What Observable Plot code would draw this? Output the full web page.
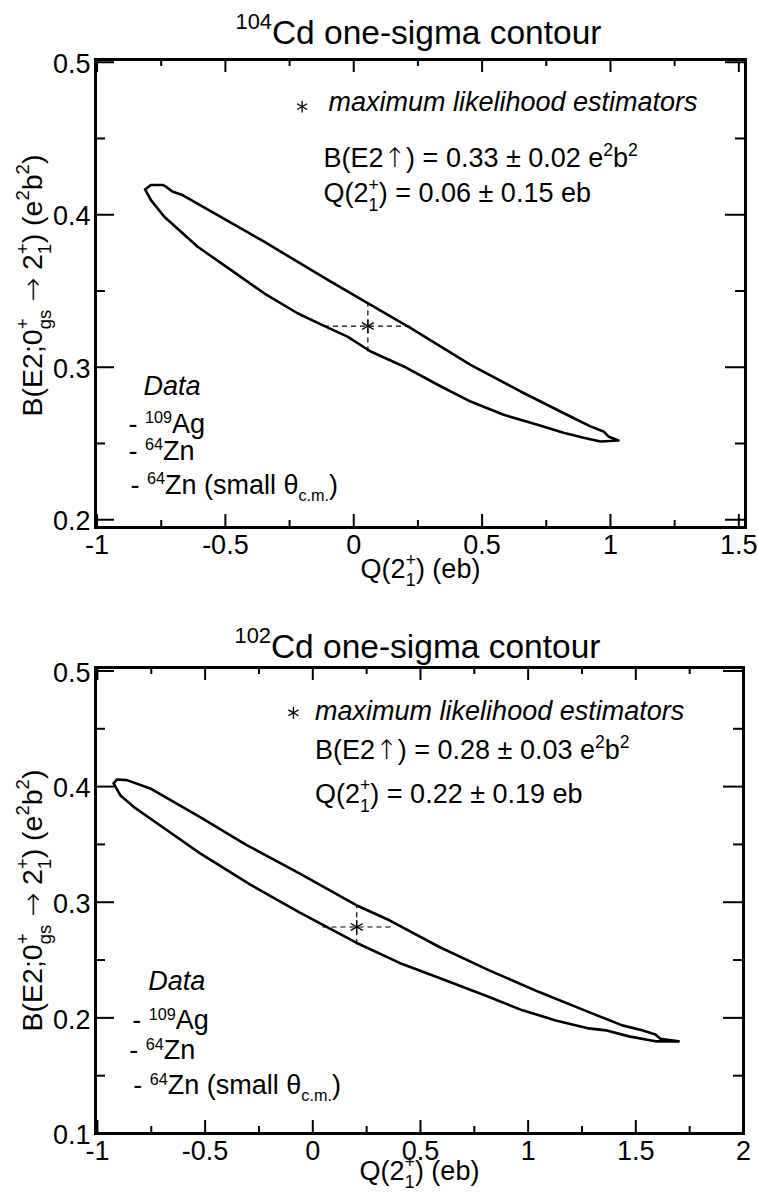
<!DOCTYPE html>
<html><head><meta charset="utf-8">
<script src="https://cdn.jsdelivr.net/npm/d3@7"></script>
<script src="https://cdn.jsdelivr.net/npm/@observablehq/plot@0.6"></script>
<style>body{margin:0;background:#fff} svg{display:block}</style>
</head><body><div id="chart"></div>
<script>
// ---------- data ----------
const panelTitles = ["^{104}Cd one-sigma contour", "^{102}Cd one-sigma contour"];
const xTitle = "Q(2^{+}_{1}) (eb)";
const yTitle = "B(E2;0^{+}_{gs} \u2192 2^{+}_{1}) (e^{2}b^{2})";
const legendHeader = "maximum likelihood estimators";
const dataHeader = "Data";
const dataSets = ["- ^[109]Ag", "- ^[64]Zn", "- ^[64]Zn (small \u03b8_[c.m.])"];

const cd104Estimates = ["B(E2\u2191) = 0.33 \u00b1 0.02 e^{2}b^{2}", "Q(2^{+}_{1}) = 0.06 \u00b1 0.15 eb"];
const cd102Estimates = ["B(E2\u2191) = 0.28 \u00b1 0.03 e^{2}b^{2}", "Q(2^{+}_{1}) = 0.22 \u00b1 0.19 eb"];

// 104Cd one-sigma contour (closed)
const cd104Q = [-0.813, -0.790, -0.744, -0.735, -0.705, -0.667, -0.349, -0.0895, 0.066, 0.222, 0.455, 0.650, 0.844, 0.922, 0.973, 0.992, 1.031,
  0.961, 0.895, 0.817, 0.716, 0.584, 0.455, 0.327, 0.195, 0.066, -0.0245, -0.1156, -0.219, -0.349, -0.479, -0.608, -0.738, -0.790, -0.813];
const cd104B = [0.4166, 0.4195, 0.4195, 0.4188, 0.4151, 0.4129, 0.3823, 0.3561, 0.3409, 0.3256, 0.3016, 0.2841, 0.2677, 0.2612, 0.2579, 0.2546, 0.2520,
  0.2513, 0.2538, 0.2570, 0.2623, 0.2688, 0.2775, 0.2885, 0.3005, 0.3103, 0.3201, 0.3271, 0.3354, 0.3485, 0.3638, 0.3790, 0.3987, 0.4096, 0.4166];
const cd104BestQ = 0.055, cd104BestB = 0.327;
const cd104CrossQ = [-0.116, 0.222];
const cd104CrossB = [0.3103, 0.342];

// 102Cd one-sigma contour (closed)
const cd102Q = [-0.925, -0.909, -0.863, -0.755, -0.523, -0.307, -0.060, 0.202, 0.356, 0.588, 0.819, 1.051, 1.282, 1.437, 1.529, 1.591, 1.614, 1.699,
  1.591, 1.468, 1.360, 1.282, 1.128, 0.974, 0.819, 0.588, 0.403, 0.202, -0.060, -0.292, -0.523, -0.677, -0.832, -0.894, -0.925];
const cd102B = [0.4028, 0.4062, 0.4056, 0.3984, 0.3735, 0.3494, 0.3248, 0.2974, 0.2844, 0.2613, 0.2411, 0.2223, 0.2050, 0.1935, 0.1892, 0.1857, 0.1820, 0.1797,
  0.1797, 0.1840, 0.1892, 0.1909, 0.1978, 0.2065, 0.2180, 0.2345, 0.2475, 0.2650, 0.2910, 0.3155, 0.3422, 0.3623, 0.3825, 0.3926, 0.4028];
const cd102BestQ = 0.204, cd102BestB = 0.2786;
const cd102CrossQ = [0.045, 0.37];
const cd102CrossB = [0.2636, 0.2974];

// ticks
const topXMajor = [-1, -0.5, 0, 0.5, 1, 1.5];
const topXMinor = [-0.75, -0.25, 0.25, 0.75, 1.25];
const topYMajor = [0.2, 0.3, 0.4, 0.5];
const topYMinor = [0.25, 0.35, 0.45];
const botXMajor = [-1, -0.5, 0, 0.5, 1, 1.5, 2];
const botXMinor = [-0.75, -0.25, 0.25, 0.75, 1.25, 1.75];
const botYMajor = [0.1, 0.2, 0.3, 0.4, 0.5];
const botYMinor = [0.15, 0.25, 0.35, 0.45];

// ---------- drawing ----------
const FONT = "'Liberation Sans', Arial, Helvetica, sans-serif";

function panel(c) {
  const fw = c.width - c.ml - c.mr, fh = c.height - c.mt - c.mb;
  const contour = c.Q.map((q, i) => ({q, b: c.B[i]}));
  const cross = [
    {x1: c.crossQ[0], x2: c.crossQ[1], y1: c.bestB, y2: c.bestB},
    {x1: c.bestQ, x2: c.bestQ, y1: c.crossB[0], y2: c.crossB[1]}
  ];
  const italicTexts = [
    {q: c.ann.textQ, b: c.ann.headB, t: legendHeader},
    {q: c.leg.headQ, b: c.leg.headB, t: dataHeader}
  ];
  const plainTexts = [
    {q: c.ann.textQ2, b: c.ann.row1B, t: c.estimates[0]},
    {q: c.ann.textQ2, b: c.ann.row2B, t: c.estimates[1]}
  ].concat(dataSets.map((t, i) => ({q: c.leg.q[i], b: c.leg.b[i], t})));
  const fmt = d => String(d);
  return Plot.plot({
    width: c.width, height: c.height,
    marginTop: c.mt, marginBottom: c.mb, marginLeft: c.ml, marginRight: c.mr,
    x: {domain: c.xDomain},
    y: {domain: c.yDomain},
    style: {fontFamily: FONT, fontSize: "27px", color: "black", background: "white"},
    marks: [
      Plot.tickX(c.xMajor, {x: d => d, insetTop: fh - 13, strokeWidth: 2}),
      Plot.tickX(c.xMinor, {x: d => d, insetTop: fh - 7, strokeWidth: 2}),
      Plot.tickX(c.xMajor, {x: d => d, insetBottom: fh - 13, strokeWidth: 2}),
      Plot.tickX(c.xMinor, {x: d => d, insetBottom: fh - 7, strokeWidth: 2}),
      Plot.tickY(c.yMajor, {y: d => d, insetRight: fw - 19, strokeWidth: 2}),
      Plot.tickY(c.yMinor, {y: d => d, insetRight: fw - 10, strokeWidth: 2}),
      Plot.tickY(c.yMajor, {y: d => d, insetLeft: fw - 20, strokeWidth: 2}),
      Plot.tickY(c.yMinor, {y: d => d, insetLeft: fw - 10, strokeWidth: 2}),
      Plot.axisX({ticks: c.xMajor, anchor: "bottom", tickSize: 0, tickPadding: 7, tickFormat: fmt, label: null, fontSize: 27}),
      Plot.axisY({ticks: c.yMajor, anchor: "left", tickSize: 0, tickPadding: 5, tickFormat: fmt, label: null, fontSize: 27, dy: 2}),
      Plot.frame({stroke: "black", strokeWidth: 3}),
      Plot.line(contour, {x: "q", y: "b", stroke: "black", strokeWidth: 2.6, strokeLinejoin: "round"}),
      Plot.link(cross, {x1: "x1", x2: "x2", y1: "y1", y2: "y2", stroke: "black", strokeWidth: 1.2, strokeDasharray: "5,4"}),
      Plot.dot([{q: c.bestQ, b: c.bestB}], {x: "q", y: "b", symbol: "asterisk", r: 6.5, stroke: "black", strokeWidth: 1.3}),
      Plot.dot([{q: c.ann.starQ, b: c.ann.starB}], {x: "q", y: "b", symbol: "asterisk", r: 5.5, stroke: "black", strokeWidth: 1.3}),
      Plot.text(italicTexts, {x: "q", y: "b", text: "t", textAnchor: "start", lineAnchor: "bottom", fontStyle: "italic", fontSize: 27}),
      Plot.text(plainTexts, {x: "q", y: "b", text: "t", textAnchor: "start", lineAnchor: "bottom", fontSize: 27}),
      Plot.text([c.title], {frameAnchor: "top", textAnchor: "middle", dx: -2, dy: c.titleDy, lineAnchor: "bottom", fontSize: 33.5}),
      Plot.text([xTitle], {frameAnchor: "bottom", textAnchor: "middle", dy: c.xtDy, lineAnchor: "bottom", fontSize: 27}),
      Plot.text([yTitle], {frameAnchor: "left", textAnchor: "middle", rotate: -90, dx: 41 - c.ml, dy: c.ytDy, lineAnchor: "bottom", fontSize: 28.5})
    ]
  });
}

function parseRich(s) {
  const out = []; let i = 0, buf = "";
  const isOpen = k => (s[k] === "^" || s[k] === "_") && (s[k + 1] === "{" || s[k + 1] === "[");
  while (i < s.length) {
    if (isOpen(i)) {
      if (buf) { out.push({k: "n", t: buf}); buf = ""; }
      const kind = s[i], br = s[i + 1], close = br === "{" ? "}" : "]";
      const j = s.indexOf(close, i + 2);
      const content = s.slice(i + 2, j);
      i = j + 1;
      const legend = br === "[";
      if (isOpen(i) && s[i] !== kind) {
        const close2 = s[i + 1] === "{" ? "}" : "]";
        const j2 = s.indexOf(close2, i + 2);
        const c2 = s.slice(i + 2, j2);
        i = j2 + 1;
        out.push({k: "stack", sup: kind === "^" ? content : c2, sub: kind === "^" ? c2 : content, legend});
      } else out.push({k: kind === "^" ? "sup" : "sub", t: content, legend});
    } else { buf += s[i]; i++; }
  }
  if (buf) out.push({k: "n", t: buf});
  return out;
}

function richify(root) {
  const NS = "http://www.w3.org/2000/svg";
  root.querySelectorAll("text").forEach(el => {
    const s = el.textContent;
    if (!/[\^_][\{\[]|[\u2191\u2192]/.test(s)) return;
    const F = parseFloat(getComputedStyle(el).fontSize);
    const parts = parseRich(s);
    el.textContent = "";
    let cur = 0, pendingDx = 0;
    const add = (t, size, off, dx, arrow) => {
      const ts = document.createElementNS(NS, "tspan");
      ts.textContent = t;
      if (size !== F) ts.setAttribute("font-size", size);
      if (arrow) { ts.setAttribute("font-family", "'DejaVu Sans', sans-serif"); ts.setAttribute("font-weight", 300); }
      const dy = off - cur;
      if (Math.abs(dy) > 1e-6) ts.setAttribute("dy", dy);
      cur = off;
      if (dx) ts.setAttribute("dx", dx);
      el.appendChild(ts);
      return ts;
    };
    for (const p of parts) {
      if (p.k === "n") {
        for (const seg of p.t.split(/([\u2191\u2192])/)) {
          if (!seg) continue;
          add(seg, F, 0, pendingDx, /[\u2191\u2192]/.test(seg));
          pendingDx = 0;
        }
        continue;
      }
      const sc = p.legend ? 0.6 : 0.65;
      const supOff = p.legend ? -0.36 * F : -0.43 * F;
      const subOff = p.legend ? 0.25 * F : 0.33 * F;
      if (p.k === "sup") { add(p.t, F * sc, supOff, pendingDx); pendingDx = 0; }
      else if (p.k === "sub") { add(p.t, F * sc, subOff, pendingDx); pendingDx = 0; }
      else {
        const a = add(p.sup, F * sc, supOff, pendingDx);
        const la = a.getComputedTextLength();
        const b = add(p.sub, F * sc, subOff, -la);
        const lb = b.getComputedTextLength();
        pendingDx = Math.max(0, la - lb);
      }
    }
  });
}

const topPanel = panel({
  width: 758, height: 600, mt: 59, mb: 73, ml: 95, mr: 13,
  xDomain: [-1.006, 1.526], yDomain: [0.1949, 0.5018],
  xMajor: topXMajor, xMinor: topXMinor, yMajor: topYMajor, yMinor: topYMinor,
  Q: cd104Q, B: cd104B, bestQ: cd104BestQ, bestB: cd104BestB, crossQ: cd104CrossQ, crossB: cd104CrossB,
  estimates: cd104Estimates, title: panelTitles[0],
  ann: {starQ: -0.201, starB: 0.4709, textQ: -0.0986, headB: 0.4683, textQ2: -0.118, row1B: 0.4311, row2B: 0.4081},
  leg: {headQ: -0.8192, headB: 0.2820, q: [-0.8777, -0.8777, -0.870], b: [0.2570, 0.2391, 0.2168]},
  titleDy: -16, xtDy: 50, ytDy: -8
});
const bottomPanel = panel({
  width: 758, height: 602, mt: 67, mb: 69, ml: 95, mr: 15,
  xDomain: [-1.009, 2.0], yDomain: [0.1, 0.5030],
  xMajor: botXMajor, xMinor: botXMinor, yMajor: botYMajor, yMinor: botYMinor,
  Q: cd102Q, B: cd102B, bestQ: cd102BestQ, bestB: cd102BestB, crossQ: cd102CrossQ, crossB: cd102CrossB,
  estimates: cd102Estimates, title: panelTitles[1],
  ann: {starQ: -0.090, starB: 0.4638, textQ: 0.0107, headB: 0.4580, textQ2: 0.0107, row1B: 0.4237, row2B: 0.3860},
  leg: {headQ: -0.764, headB: 0.2239, q: [-0.8381, -0.852, -0.8335], b: [0.1901, 0.1642, 0.1339]},
  titleDy: -10, xtDy: 46, ytDy: 0
});
const host = document.getElementById("chart");
host.appendChild(topPanel);
host.appendChild(bottomPanel);
richify(host);
</script></body></html>
